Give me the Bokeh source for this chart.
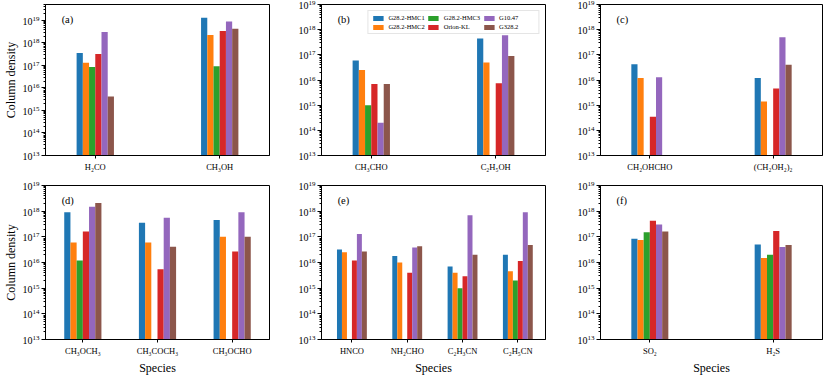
import math
from bokeh.plotting import figure
from bokeh.models import Range1d, FixedTicker, Label, ColumnDataSource, Legend, LegendItem
from bokeh.layouts import column, row
from bokeh.embed import file_html
from bokeh.resources import INLINE

sources = ["G28.2-HMC1", "G28.2-HMC2", "G28.2-HMC3", "Orion-KL", "G10.47", "G328.2"]
colors = ["#1f77b4", "#ff7f0e", "#2ca02c", "#d62728", "#9467bd", "#8c564b"]

# panel (a)
species_a = ["H₂CO", "CH₃OH"]
vals_a = [[3.5e17, 1.3e19], [1.3e17, 2.2e18], [8.5e16, 9.0e16],
          [3.2e17, 3.3e18], [3.0e18, 8.8e18], [4.1e15, 4.2e18]]
# panel (b)
species_b = ["CH₃CHO", "C₂H₅OH"]
vals_b = [[6.0e16, 4.5e17], [2.5e16, 5.0e16], [1.0e15, None],
          [7.0e15, 7.5e15], [2.0e14, 6.0e17], [7.0e15, 9.0e16]]
# panel (c)
species_c = ["CH₂OHCHO", "(CH₂OH₂)₂"]
vals_c = [[4.2e16, 1.2e16], [1.2e16, 1.4e15], [None, None],
          [3.5e14, 4.6e15], [1.3e16, 5.0e17], [None, 4.0e16]]
# panel (d)
species_d = ["CH₃OCH₃", "CH₃COCH₃", "CH₃OCHO"]
vals_d = [[9.0e17, 3.5e17, 4.5e17], [6.0e16, 6.0e16, 1.0e17], [1.2e16, None, None],
          [1.6e17, 5.5e15, 2.7e16], [1.5e18, 5.5e17, 9.0e17], [2.1e18, 4.1e16, 1.0e17]]
# panel (e)
species_e = ["HNCO", "NH₂CHO", "C₂H₃CN", "C₂H₅CN"]
vals_e = [[3.2e16, 1.8e16, 7.0e15, 2.0e16], [2.5e16, 1.0e16, 4.0e15, 4.6e15],
          [None, None, 1.0e15, 2.0e15], [1.2e16, 4.0e15, 2.9e15, 1.15e16],
          [1.3e17, 3.8e16, 7.0e17, 9.0e17], [2.7e16, 4.3e16, 2.0e16, 4.8e16]]
# panel (f)
species_f = ["SO₂", "H₂S"]
vals_f = [[8.5e16, 5.0e16], [7.5e16, 1.5e16], [1.5e17, 2.0e16],
          [4.2e17, 1.7e17], [3.0e17, 4.0e16], [1.6e17, 4.8e16]]

decades = list(range(13, 20))
FONT = "Liberation Serif"


def panel(tag, species, vals, bar_w, x_lo, x_hi, y_hi, fw, fh, bl, br, bt, bb,
          ylabel=None, xlabel=None, legend=False):
    p = figure(output_backend="svg", toolbar_location=None, y_axis_type="log",
               x_range=Range1d(x_lo, x_hi), y_range=Range1d(1e13, y_hi),
               frame_width=fw, frame_height=fh,
               min_border_left=bl, min_border_right=br,
               min_border_top=bt, min_border_bottom=bb)
    p.xgrid.visible = False
    p.ygrid.visible = False
    p.outline_line_color = "black"
    p.outline_line_width = 1
    p.background_fill_color = "white"
    p.border_fill_color = "white"
    items = []
    for i, (name, col) in enumerate(zip(sources, colors)):
        xs, tops = [], []
        for j, v in enumerate(vals[i]):
            if v is not None:
                xs.append(j + (i - 2.5) * bar_w)
                tops.append(v)
        src = ColumnDataSource(dict(x=xs, top=tops))
        r = p.vbar(x="x", top="top", bottom=1e11, width=bar_w, source=src,
                   fill_color=col, line_color=None)
        items.append(LegendItem(label=name, renderers=[r]))
    # x axis
    xa = p.xaxis[0]
    xa.ticker = FixedTicker(ticks=list(range(len(species))))
    xa.major_label_overrides = {j: s for j, s in enumerate(species)}
    xa.major_label_text_font = FONT
    xa.major_label_text_font_size = "8.5px"
    xa.major_label_text_color = "black"
    xa.major_label_standoff = 3
    xa.major_tick_in = 0
    xa.major_tick_out = 3
    xa.major_tick_line_color = "black"
    xa.minor_tick_line_color = None
    xa.axis_line_color = "black"
    if xlabel:
        xa.axis_label = xlabel
        xa.axis_label_text_font = FONT
        xa.axis_label_text_font_size = "12px"
        xa.axis_label_text_font_style = "normal"
        xa.axis_label_text_color = "black"
        xa.axis_label_standoff = 2
    # y axis
    ya = p.yaxis[0]
    ya.ticker = FixedTicker(ticks=[10.0 ** k for k in decades],
                            minor_ticks=[m * 10.0 ** k for k in decades for m in range(2, 10)])
    ya.major_label_text_font = FONT
    ya.major_label_text_font_size = "10px"
    ya.major_label_text_color = "black"
    ya.major_label_standoff = 2
    ya.major_tick_in = 0
    ya.major_tick_out = 4
    ya.minor_tick_in = 0
    ya.minor_tick_out = 2
    ya.major_tick_line_color = "black"
    ya.minor_tick_line_color = "black"
    ya.axis_line_color = "black"
    if ylabel:
        ya.axis_label = ylabel
        ya.axis_label_text_font = FONT
        ya.axis_label_text_font_size = "12px"
        ya.axis_label_text_font_style = "normal"
        ya.axis_label_text_color = "black"
        ya.axis_label_standoff = 2
    # panel tag
    lx = x_lo + 0.072 * (x_hi - x_lo)
    ly = 10 ** (13 + 0.9 * (math.log10(y_hi) - 13))
    p.add_layout(Label(x=lx, y=ly, text=tag, text_font=FONT, text_font_size="10.5px",
                       text_color="black", text_baseline="middle", text_align="left"))
    if legend:
        lg = Legend(items=items, location="top_right", orientation="vertical", nrows=2,
                    label_text_font=FONT, label_text_font_size="6.5px",
                    label_text_color="black",
                    glyph_width=13, glyph_height=6, label_height=7, label_standoff=4,
                    spacing=2, padding=3, margin=6, label_width=36,
                    border_line_color="#cccccc", border_line_width=1,
                    background_fill_alpha=1.0)
        p.add_layout(lg)
    return p


pa = panel("(a)", species_a, vals_a, 0.05, -0.4, 1.4, 5e19, 224, 151, 35, 16, 4, 20,
           ylabel="Column density")
pb = panel("(b)", species_b, vals_b, 0.05, -0.4, 1.4, 1e19, 224, 151, 36, 18, 4, 20, legend=True)
pc = panel("(c)", species_c, vals_c, 0.05, -0.4, 1.4, 1e19, 222, 151, 37, 2, 4, 20)
pd = panel("(d)", species_d, vals_d, 0.083, -0.5, 2.5, 1e19, 224, 154, 35, 16, 10, 27,
           ylabel="Column density", xlabel="Species")
pe = panel("(e)", species_e, vals_e, 0.09, -0.55, 3.5, 1e19, 224, 154, 36, 18, 10, 27,
           xlabel="Species")
pf = panel("(f)", species_f, vals_f, 0.05, -0.4, 1.4, 1e19, 222, 154, 37, 2, 10, 27,
           xlabel="Species")

layout = column(row(pa, pb, pc), row(pd, pe, pf))
open("out.html", "w").write(file_html(layout, INLINE))
